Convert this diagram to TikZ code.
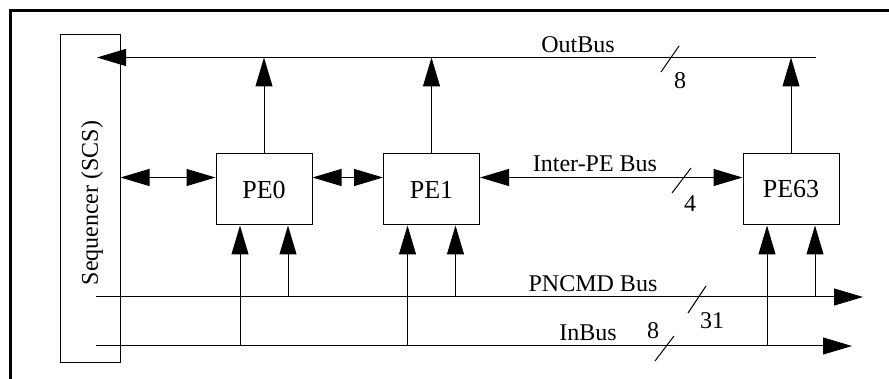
\documentclass[tikz,border=0pt]{standalone}
\usepackage{fontspec}
\setmainfont{Liberation Serif}
\usetikzlibrary{arrows.meta}
\begin{document}
\begin{tikzpicture}[x=1pt,y=-1pt,line width=1pt,
  txt/.style={font=\fontsize{24}{28}\selectfont},
  pebox/.style={draw,font=\fontsize{26}{30}\selectfont,minimum width=96pt,minimum height=71pt,inner sep=0pt},
  lbl/.style={txt,inner sep=0pt,anchor=base},
  tip/.style={-{Triangle[length=29pt,width=17pt]}},
  dtip/.style={{Triangle[length=29pt,width=17pt]}-{Triangle[length=29pt,width=17pt]}}]
\useasboundingbox (0,0) rectangle (889,379);
\draw[line width=3pt] (10,11) rectangle (920,420);
% sequencer
\node[draw,minimum width=60pt,minimum height=327pt,inner sep=0pt] (seq) at (90,198.5) {};
\node[txt,rotate=90,inner sep=0pt] (seqtxt) at (92,203) {Sequencer (SCS)};
% PEs
\node[pebox] (pe0) at (264,189.5) {PE0};
\node[pebox] (pe1) at (431.5,189.5) {PE1};
\node[pebox] (pe63) at (791,189.5) {PE63};
% buses
\coordinate (obR) at (816,57.5);
\coordinate (obL) at (97,57.5);
\coordinate (pnL) at (96,297);
\coordinate (pnR) at (863,297);
\coordinate (inL) at (96,346);
\coordinate (inR) at (852,346);
\draw[tip] (obR) -- (obL);
\draw[tip] (pnL) -- (pnR);
\draw[tip] (inL) -- (inR);
% outputs to OutBus
\draw[tip] (pe0.north) -- (pe0.north |- obR);
\draw[tip] (pe1.north) -- (pe1.north |- obR);
\draw[tip] (pe63.north) -- (pe63.north |- obR);
% inter-PE links
\draw[dtip] ([yshift=12pt]seq.east |- pe0.west) -- ([yshift=12pt]pe0.west);
\draw[dtip] ([yshift=12pt]pe0.east) -- ([yshift=12pt]pe1.west);
\draw[dtip] ([yshift=12pt]pe1.east) -- ([yshift=12pt]pe63.west);
% inputs from InBus and PNCMD Bus
\foreach \p in {pe0,pe1,pe63}{
  \draw[tip] ([xshift=-24pt]\p.south |- inL) -- ([xshift=-24pt]\p.south);
  \draw[tip] ([xshift=24pt]\p.south |- pnL) -- ([xshift=24pt]\p.south);
}
% labels
\node[lbl] (lob) at (578,53) {OutBus};
\node[lbl] (lipe) at (595,172) {Inter-PE Bus};
\node[lbl] (lpn) at (593,292) {PNCMD Bus};
\node[lbl] (lin) at (588,341) {InBus};
\node[lbl] (n8a) at (680,89) {8};
\node[lbl] (n4) at (690,212) {4};
\node[lbl] (n31) at (712,329) {31};
\node[lbl] (n8b) at (653,338) {8};
% bus width slashes
\draw (661,72) -- (679,46);
\draw (672,193) -- (691,168);
\draw (688,313) -- (706,286);
\draw (655,361) -- (674,336);
\end{tikzpicture}
\end{document}
